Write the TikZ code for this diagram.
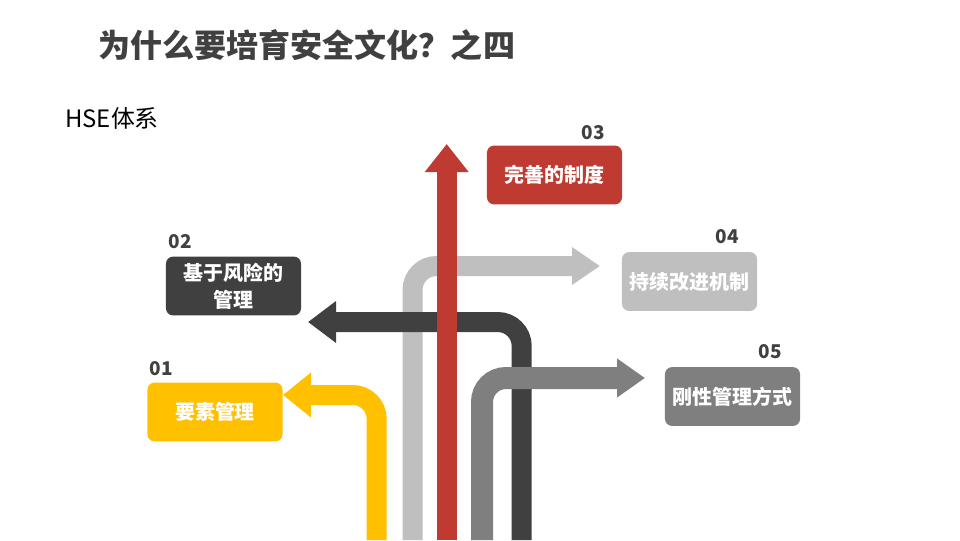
\documentclass[tikz,border=0pt]{standalone}
\usepackage{fontspec}
\setmainfont{Noto Sans CJK SC}
\usetikzlibrary{arrows.meta, positioning}
\definecolor{hyellow}{HTML}{FFC000}
\definecolor{hred}{HTML}{BF3A30}
\definecolor{hlight}{HTML}{BFBFBF}
\definecolor{hmid}{HTML}{7F7F7F}
\definecolor{hdark}{HTML}{404040}
\tikzset{
  % fascia larga con angolo arrotondato
  band/.style={line width=0.5cm, rounded corners=0.6cm, line cap=butt},
  tip/.style={-{Triangle[width=#1, length=0.7cm]}},
  % riquadro di un punto
  item/.style={rounded corners=5pt, minimum width=3.375cm, minimum height=1.47cm,
    align=center, text=white, font=\fontsize{14.2pt}{19pt}\selectfont\bfseries, inner sep=2pt},
  % numero sopra il riquadro
  num/.style={text=hdark, font=\fontsize{13.5pt}{15pt}\selectfont\bfseries, inner sep=0pt},
}
\begin{document}
\begin{tikzpicture}[x=0.025cm, y=-0.025cm]
  \useasboundingbox (0,0) rectangle (960,540);
  % titolo
  \node[anchor=west, text=hdark, font=\fontsize{22.8pt}{26pt}\selectfont\bfseries, inner sep=0pt]
    (title) at (98,45) {为什么要培育安全文化？之四};
  \node[anchor=west, font=\fontsize{17pt}{20pt}\selectfont, inner sep=0pt] (sub) at (65,118) {HSE体系};
  % estremi delle fasce
  \coordinate (l0) at (412.5,540); \coordinate (l1) at (600,266);
  \coordinate (d0) at (521.7,540); \coordinate (d1) at (308,322);
  \coordinate (m0) at (482,540);   \coordinate (m1) at (645,378);
  \coordinate (y0) at (376.7,540); \coordinate (y1) at (283,395);
  \coordinate (r0) at (446.7,540); \coordinate (r1) at (446.7,144);
  \draw[band, hlight, tip=0.9cm] (l0) |- (l1);
  \draw[band, hdark, tip=1cm] (d0) |- (d1);
  \draw[band, hmid, line width=0.55cm, tip=0.93cm] (m0) |- (m1);
  \draw[band, hyellow, tip=1.08cm] (y0) |- (y1);
  \draw[band, hred, tip=1.05cm] (r0) -- (r1);
  % riquadri
  \node[item, fill=hyellow] (b1) at (215,412) {要素管理};
  \node[item, fill=hdark] (b2) at (233.5,286) {基于风险的\\管理};
  \node[item, fill=hred] (b3) at (554.5,175) {完善的制度};
  \node[item, fill=hlight] (b4) at (689.5,281.5) {持续改进机制};
  \node[item, fill=hmid] (b5) at (732.5,396.5) {刚性管理方式};
  \node[num] (n1) at (161,369) {01};
  \node[num] (n2) at (180,242) {02};
  \node[num] (n3) at (593,133) {03};
  \node[num] (n4) at (727,237) {04};
  \node[num] (n5) at (770,352) {05};
\end{tikzpicture}
\end{document}
